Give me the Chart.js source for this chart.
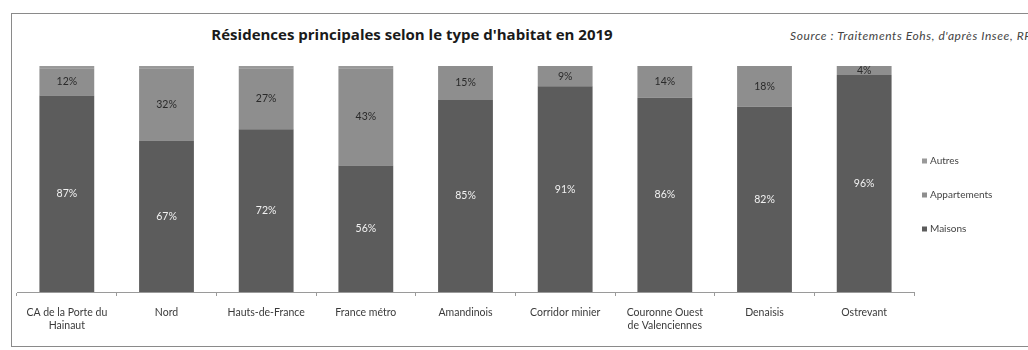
<!DOCTYPE html>
<html>
<head>
<meta charset="utf-8">
<script src="https://cdn.jsdelivr.net/npm/chart.js@4"></script>
<style>
  html, body { margin: 0; padding: 0; background: #fff; }
  #wrap { position: relative; width: 1028px; height: 350px; overflow: hidden; }
  #cadre { position: absolute; left: 11px; top: 13px; width: 1030px; height: 334px; border: 1px solid #8a8a8a; box-sizing: border-box; }
  #titre { position: absolute; left: 0; width: 824px; top: 24px; text-align: center; font: bold 15px "Open Sans", sans-serif; color: #1a1a1a; }
  #source { position: absolute; left: 790px; top: 28px; white-space: nowrap; font: italic 12px Lato, sans-serif; letter-spacing: 0.6px; color: #444; }
  canvas { position: absolute; left: 0; top: 0; }
</style>
</head>
<body>
<div id="wrap">
  <div id="cadre"></div>
  <div id="titre">Résidences principales selon le type d'habitat en 2019</div>
  <div id="source">Source : Traitements Eohs, d'après Insee, RP</div>
  <canvas id="graphe" width="1028" height="350"></canvas>
</div>
<script>
// territoires (axe X)
const territoires = [
  ['CA de la Porte du', 'Hainaut'],
  'Nord',
  'Hauts-de-France',
  'France métro',
  'Amandinois',
  'Corridor minier',
  ['Couronne Ouest', 'de Valenciennes'],
  'Denaisis',
  'Ostrevant'
];

// parts en %
const maisons      = [87, 67, 72, 56, 85, 91, 86, 82, 96];
const appartements = [12, 32, 27, 43, 15,  9, 14, 18,  4];
const autres       = [ 1,  1,  1,  1,  0,  0,  0,  0,  0];

const couleurs = { maisons: '#5c5c5c', appartements: '#8e8e8e', autres: '#999999' };

// étiquettes de valeurs au centre des segments
const etiquettes = {
  id: 'etiquettes',
  afterDatasetsDraw(chart) {
    const ctx = chart.ctx;
    ctx.save();
    ctx.font = '10.5px Lato, sans-serif';
    ctx.textAlign = 'center';
    ctx.textBaseline = 'middle';
    chart.data.datasets.forEach((ds, i) => {
      if (!ds.etiquette) return;
      ctx.fillStyle = ds.etiquette;
      chart.getDatasetMeta(i).data.forEach((bar, j) => {
        const v = ds.data[j];
        if (!v) return;
        ctx.fillText(v + '%', bar.x, (bar.y + bar.base) / 2);
      });
    });
    ctx.restore();
  }
};

// légende à droite, ordre inversé
const legende = {
  id: 'legende',
  afterDraw(chart) {
    const ctx = chart.ctx;
    const a = chart.chartArea;
    ctx.save();
    ctx.font = '10px Lato, sans-serif';
    ctx.textBaseline = 'middle';
    const ds = chart.data.datasets.slice().reverse();
    ds.forEach((d, k) => {
      const y = a.top + 95 + k * 34;
      const x = a.right + 8;
      ctx.fillStyle = d.backgroundColor;
      ctx.fillRect(x, y - 2.5, 5, 5);
      ctx.fillStyle = '#444';
      ctx.fillText(d.label, x + 8, y);
    });
    ctx.restore();
  }
};

new Chart(document.getElementById('graphe'), {
  type: 'bar',
  data: {
    labels: territoires,
    datasets: [
      { label: 'Maisons', data: maisons, backgroundColor: couleurs.maisons, etiquette: '#f2f2f2' },
      { label: 'Appartements', data: appartements, backgroundColor: couleurs.appartements, etiquette: '#2a2a2a' },
      { label: 'Autres', data: autres, backgroundColor: couleurs.autres }
    ]
  },
  options: {
    responsive: false,
    animation: false,
    layout: { padding: { left: 17, right: 114, top: 66, bottom: 0 } },
    datasets: { bar: { barPercentage: 0.55, categoryPercentage: 1 } },
    plugins: {
      legend: { display: false },
      tooltip: { enabled: false }
    },
    scales: {
      x: {
        stacked: true,
        offset: true,
        grid: { display: true, drawOnChartArea: false, tickLength: 4, color: '#9a9a9a' },
        border: { color: '#9a9a9a' },
        ticks: { color: '#3a3a3a', font: { family: 'Lato, sans-serif', size: 10.5, lineHeight: 1.25 }, padding: 10, maxRotation: 0, autoSkip: false },
        afterFit(scale) { scale.height = 58; }
      },
      y: {
        stacked: true,
        display: false,
        min: 0,
        max: 100
      }
    }
  },
  plugins: [etiquettes, legende]
});
</script>
</body>
</html>
